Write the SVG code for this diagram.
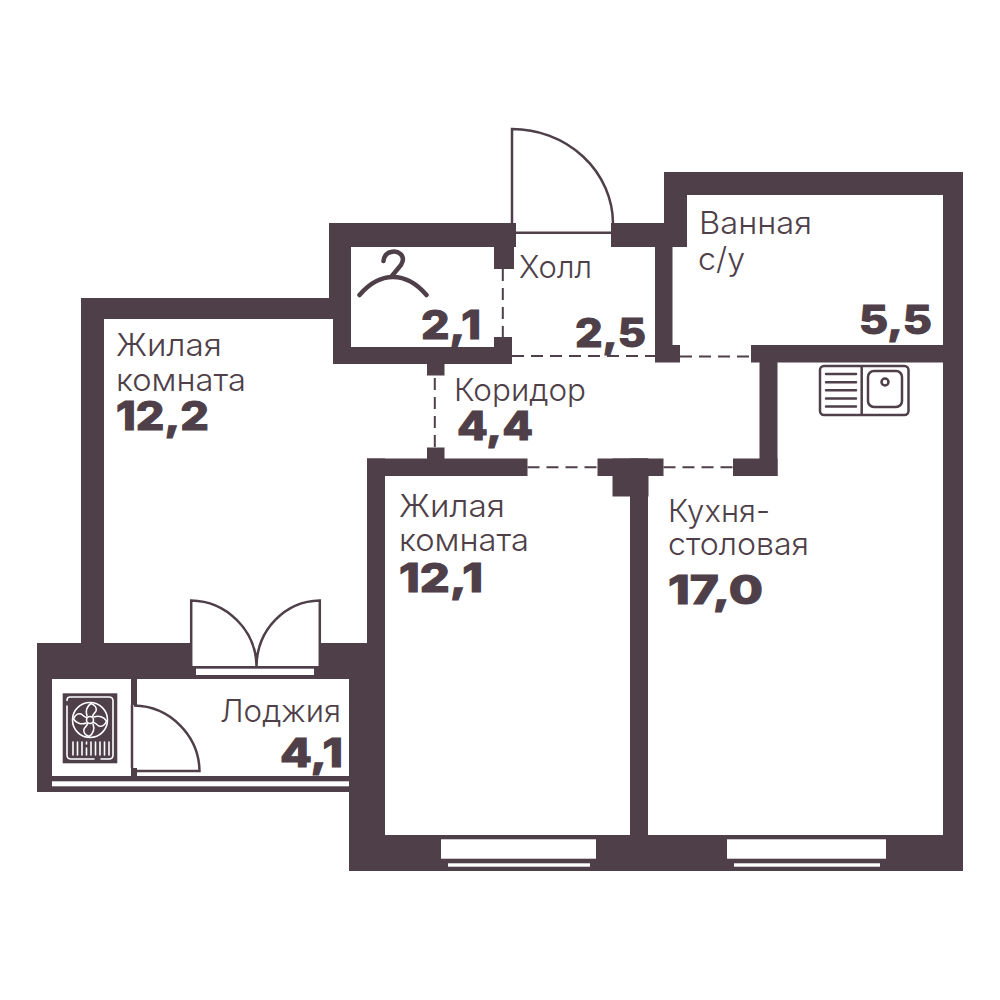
<svg xmlns="http://www.w3.org/2000/svg" width="1000" height="1000" viewBox="0 0 1000 1000">
<style>
.w{fill:#4e3f49}
.o{fill:#fff}
.l{fill:none;stroke:#4e3f49;stroke-width:2.5}
.d{fill:none;stroke:#4e3f49;stroke-width:2;stroke-dasharray:12 7}
.wl{fill:none;stroke:#fff;stroke-width:1.6;stroke-linecap:round;stroke-linejoin:round}
.t{font-family:Inter,"Liberation Sans",sans-serif;font-weight:300;font-size:31px;fill:#4e3f49}
.n{font-family:Inter,"Liberation Sans",sans-serif;font-weight:800;font-size:39px;fill:#4e3f49;stroke:#4e3f49;stroke-width:1}
</style>
<rect width="1000" height="1000" fill="#fff"/>
<g id="walls">
<rect class="w" x="81" y="298" width="23" height="345"/>
<rect class="w" x="81" y="298" width="252" height="21"/>
<rect class="w" x="329" y="223" width="187" height="24"/>
<rect class="w" x="329" y="223" width="22" height="76"/>
<rect class="w" x="333" y="298" width="18" height="66"/>
<rect class="w" x="333" y="347" width="179" height="17"/>
<rect class="w" x="494" y="240" width="20" height="29"/>
<rect class="w" x="494" y="337" width="18" height="20"/>
<rect class="w" x="427" y="360" width="17.500" height="15.500"/>
<rect class="w" x="611" y="223" width="60" height="24"/>
<rect class="w" x="655" y="223" width="17.500" height="139"/>
<rect class="w" x="655" y="345" width="25" height="17.500"/>
<rect class="w" x="664" y="172" width="299" height="23"/>
<rect class="w" x="664" y="172" width="23" height="75"/>
<rect class="w" x="943" y="172" width="20" height="699"/>
<rect class="w" x="751" y="345" width="212" height="17.500"/>
<rect class="w" x="759.500" y="345" width="18" height="131"/>
<rect class="w" x="733" y="458.500" width="44.500" height="17.500"/>
<rect class="w" x="367" y="458.500" width="160.500" height="17.500"/>
<rect class="w" x="427" y="447.500" width="17.500" height="15"/>
<rect class="w" x="597.500" y="458.500" width="66" height="17.500"/>
<rect class="w" x="612.500" y="458.500" width="36" height="38"/>
<rect class="w" x="630" y="458.500" width="18" height="380"/>
<rect class="w" x="367" y="458.500" width="18" height="200"/>
<rect class="w" x="349" y="643" width="36" height="228"/>
<rect class="w" x="349" y="835" width="614" height="36"/>
<rect class="w" x="37" y="643" width="153" height="36"/>
<rect class="w" x="321" y="643" width="64" height="36"/>
<rect class="w" x="190" y="666" width="131" height="13"/>
<rect class="w" x="37" y="643" width="15" height="149"/>
<rect class="w" x="37" y="776" width="312" height="16"/>
<rect class="w" x="131" y="679" width="6" height="26"/>
<rect class="w" x="131" y="768" width="6" height="8"/>
</g>
<g id="windows">
<rect class="o" x="196" y="668.700" width="118" height="6.300"/>
<rect class="o" x="52" y="781.300" width="297" height="5"/>
<rect class="o" x="441" y="839.300" width="155" height="19.400"/>
<rect class="o" x="448" y="863.300" width="142" height="3.400"/>
<rect class="o" x="727" y="839.300" width="159" height="19.400"/>
<rect class="o" x="734" y="863.300" width="146" height="3.400"/>
</g>
<g id="partitions">
<path class="d" d="M502.800 269V337"/>
<path class="d" d="M512 356H655"/>
<path class="d" d="M680 356.500H751"/>
<path class="d" d="M434.800 378V447"/>
<path class="d" d="M527.500 467.300H597.500"/>
<path class="d" d="M663.500 467.300H733"/>
</g>
<g id="doors">
<path class="l" d="M512 223V129A101 95 0 0 1 613 223"/>
<path class="l" d="M513 232.800H612"/>
<path class="l" d="M191.200 666V600.500C226 601 256 630 256.500 666M319.800 666V600.500C285 601 257 630 256.500 666"/>
<path class="l" d="M132 705V768M134 705.500C170 706 199 736 199.500 771H136"/>
</g>
<g id="fixtures">
<g id="sink">
<rect class="l" x="820" y="366" width="88.500" height="49" rx="4"/>
<path class="l" d="M861.700 366V415"/>
<path class="l" stroke-linecap="round" d="M826 374H856M826 382.300H856M826 390.300H856M826 398.500H856M826 406.500H856"/>
<rect class="l" x="868" y="371" width="34" height="36" rx="6"/>
<circle class="l" cx="885" cy="382" r="3.500"/>
</g>
<g id="hanger">
<path fill="none" stroke="#4e3f49" stroke-width="4.500" stroke-linecap="round" d="M359.500 295C380 271 406 271 426.500 295M391.500 276.500L401 265C407 255 397 250 391 252C386 253 384 257 383.500 261"/>
</g>
<g id="ac">
<rect class="w" x="62.700" y="693.300" width="54.600" height="70"/>
<path class="wl" d="M70 697H109Q113 697 113 701V755Q113 759 109 759H101M94 759H71Q67 759 67 755V706M67 700.500Q67 697 70 697"/>
<circle class="wl" cx="90" cy="720" r="17.500"/>
<circle class="wl" cx="90" cy="720" r="3.500"/>
<g id="blades">
<path id="blade" class="wl" d="M87 716C85 711 87 706 91 703.500C95 705 97 708 96 711C95 713 93 714 92.500 716.500"/>
<path class="wl" transform="rotate(90 90 720)" d="M87 716C85 711 87 706 91 703.500C95 705 97 708 96 711C95 713 93 714 92.500 716.500"/>
<path class="wl" transform="rotate(180 90 720)" d="M87 716C85 711 87 706 91 703.500C95 705 97 708 96 711C95 713 93 714 92.500 716.500"/>
<path class="wl" transform="rotate(270 90 720)" d="M87 716C85 711 87 706 91 703.500C95 705 97 708 96 711C95 713 93 714 92.500 716.500"/>
</g>
<path class="wl" d="M73 742V755M77.500 742V755M82 742V755M86.500 742V744M86.500 748V755M91 742V755M95.500 742V755M100 742V755M104.500 742V755M109 742V755"/>
</g>
</g>
<g id="labels">
<text class="t" x="116" y="356" textLength="106" lengthAdjust="spacingAndGlyphs">Жилая</text>
<text class="t" x="116" y="391" textLength="130" lengthAdjust="spacingAndGlyphs">комната</text>
<text class="n" x="116" y="430" textLength="93" lengthAdjust="spacingAndGlyphs">12,2</text>
<text class="t" x="399" y="517" textLength="106" lengthAdjust="spacingAndGlyphs">Жилая</text>
<text class="t" x="399" y="551" textLength="130" lengthAdjust="spacingAndGlyphs">комната</text>
<text class="n" x="399" y="592" textLength="84" lengthAdjust="spacingAndGlyphs">12,1</text>
<text class="t" x="668" y="522" textLength="102" lengthAdjust="spacingAndGlyphs">Кухня-</text>
<text class="t" x="668" y="555" textLength="141" lengthAdjust="spacingAndGlyphs">столовая</text>
<text class="n" x="668" y="604" textLength="95" lengthAdjust="spacingAndGlyphs">17,0</text>
<text class="t" x="699" y="234" textLength="113" lengthAdjust="spacingAndGlyphs">Ванная</text>
<text class="t" x="698" y="270" textLength="47" lengthAdjust="spacingAndGlyphs">с/у</text>
<text class="n" x="859" y="334" textLength="73" lengthAdjust="spacingAndGlyphs">5,5</text>
<text class="t" x="519" y="278" textLength="73" lengthAdjust="spacingAndGlyphs">Холл</text>
<text class="n" x="575" y="347" textLength="71" lengthAdjust="spacingAndGlyphs">2,5</text>
<text class="n" x="421" y="339" textLength="60" lengthAdjust="spacingAndGlyphs">2,1</text>
<text class="t" x="454" y="401" textLength="132" lengthAdjust="spacingAndGlyphs">Коридор</text>
<text class="n" x="457" y="440" textLength="76" lengthAdjust="spacingAndGlyphs">4,4</text>
<text class="t" x="220" y="722" textLength="121" lengthAdjust="spacingAndGlyphs">Лоджия</text>
<text class="n" x="280" y="767" textLength="63" lengthAdjust="spacingAndGlyphs">4,1</text>
</g>
</svg>
